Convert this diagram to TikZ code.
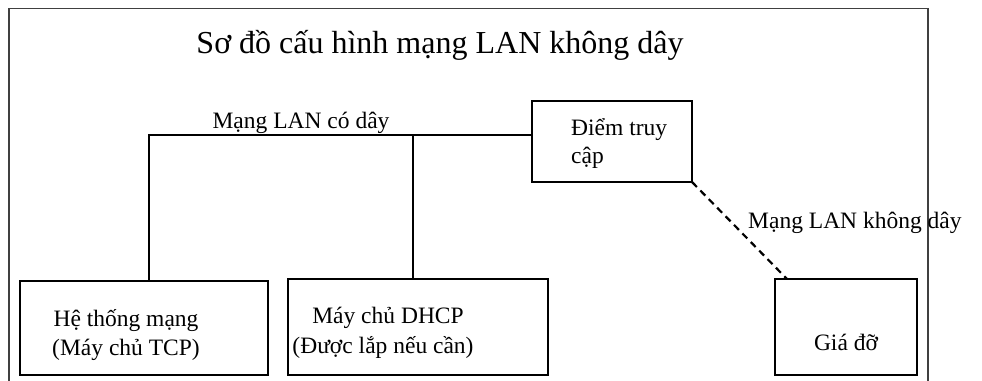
\documentclass[tikz,border=0pt]{standalone}
\usepackage{fontspec}
\setmainfont{Liberation Serif}
\usetikzlibrary{calc}
\begin{document}
\begin{tikzpicture}[x=1pt,y=-1pt,
  box/.style={draw=black,line width=2.2pt,inner sep=0pt,outer sep=0pt,anchor=north west},
  lbl/.style={font=\fontsize{23.5}{28}\selectfont,inner sep=0pt,anchor=base},
  wire/.style={draw=black,line width=2.2pt},
  frame/.style={draw=black!75,line width=1.5pt}]
\useasboundingbox (0,0) rectangle (982,380);
% outer frame (bottom is cut off)
\coordinate (fbl) at (9,381);
\coordinate (ftl) at (9,8.5);
\coordinate (ftr) at (928,8.5);
\coordinate (fbr) at (928,381);
\draw[frame] (fbl) -- (ftl) -- (ftr) -- (fbr);
% title
\node[lbl,font=\fontsize{32}{38}\selectfont] (title) at (440,53) {Sơ đồ cấu hình mạng LAN không dây};
% boxes
\node[box,minimum width=160pt,minimum height=81pt] (ap) at (532,101) {};
\node[box,minimum width=248pt,minimum height=94pt] (hs) at (20,281) {};
\node[box,minimum width=260pt,minimum height=96pt] (dh) at (288,279) {};
\node[box,minimum width=142pt,minimum height=96pt] (gd) at (775,279) {};
% texts
\node[lbl] (wired) at (301,128) {Mạng LAN có dây};
\node[lbl,anchor=base west] (ap1) at (571,135) {Điểm truy};
\node[lbl,anchor=base west] (ap2) at (571,163) {cập};
\node[lbl,anchor=base west] (wless) at (748,228) {Mạng LAN không dây};
\node[lbl] (hs1) at (126,326) {Hệ thống mạng};
\node[lbl] (hs2) at (126,355) {(Máy chủ TCP)};
\node[lbl] (dh1) at (388,323) {Máy chủ DHCP};
\node[lbl] (dh2) at (383,353) {(Được lắp nếu cần)};
\node[lbl] (gd1) at (846,350) {Giá đỡ};
% wired bus
\coordinate (bus) at (149,135);
\coordinate (tap) at (413,135);
\draw[wire] (bus -| ap.west) -- (bus) -- (bus |- hs.north);
\draw[wire] (tap) -- (tap |- dh.north);
% wireless link
\coordinate (gdin) at ($(gd.north west)+(12,0)$);
\draw[wire,dash pattern=on 7pt off 5pt] (ap.south east) -- (gdin);
\end{tikzpicture}
\end{document}
